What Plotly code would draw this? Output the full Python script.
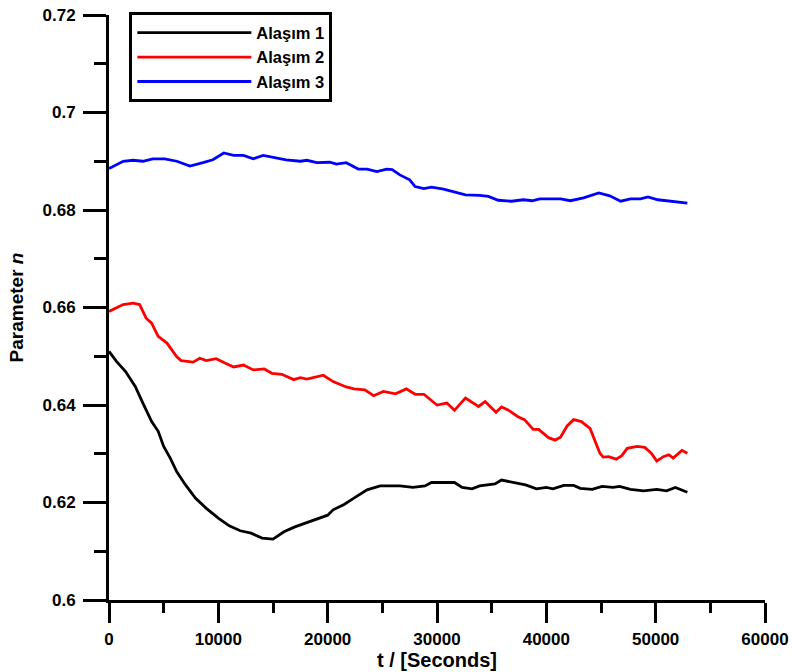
import plotly.graph_objects as go

# ---- data ----
t1 = [0, 700, 1500, 2400, 3100, 3900, 4500, 5000, 5600, 6200, 7000, 7900, 8900, 10000, 11000, 12000, 13000,
      14000, 15000, 16000, 17000, 18000, 19000, 20000, 20500, 21500, 22400, 23600, 24800, 26600, 27800, 28900,
      29500, 31600, 32300, 33200, 33900, 35300, 35900, 37000, 38100, 39100, 40000, 40600, 41600, 42500, 43100,
      44200, 45100, 46100, 46700, 47700, 48900, 50100, 51000, 51800, 52400, 52900]
n1 = [0.6510, 0.6489, 0.6469, 0.6438, 0.6404, 0.6366, 0.6346, 0.6315, 0.6291, 0.6263, 0.6236, 0.6209, 0.6188,
      0.6168, 0.6152, 0.6142, 0.6137, 0.6127, 0.6125, 0.6140, 0.6150, 0.6158, 0.6165, 0.6174, 0.6185, 0.6196,
      0.6209, 0.6226, 0.6234, 0.6234, 0.6231, 0.6234, 0.6241, 0.6241, 0.6231, 0.6228, 0.6234, 0.6238, 0.6246,
      0.6241, 0.6236, 0.6228, 0.6231, 0.6228, 0.6235, 0.6235, 0.6229, 0.6227, 0.6233, 0.6231, 0.6233, 0.6227,
      0.6224, 0.6227, 0.6224, 0.6231, 0.6226, 0.6221]

t2 = [0, 1300, 2200, 2800, 3400, 3900, 4500, 5300, 6200, 6600, 7700, 8300, 8900, 9800, 10600, 11400, 12300,
      13200, 14200, 14900, 15800, 16900, 17500, 18100, 19600, 20500, 21700, 22400, 23400, 24200, 25100, 26200,
      27200, 28000, 28800, 30000, 30900, 31600, 32600, 33800, 34400, 35400, 35900, 36500, 37400, 38000, 38800,
      39300, 40200, 40800, 41300, 41900, 42500, 43200, 44000, 44500, 44900, 45200, 45700, 46400, 46900, 47400,
      48300, 49000, 49600, 50100, 50700, 51200, 51600, 52400, 52900]
n2 = [0.6592, 0.6606, 0.6609, 0.6606, 0.6578, 0.6568, 0.6541, 0.6527, 0.6499, 0.6491, 0.6488, 0.6496, 0.6491,
      0.6495, 0.6486, 0.6478, 0.6482, 0.6472, 0.6474, 0.6465, 0.6463, 0.6452, 0.6456, 0.6453, 0.6461, 0.6448,
      0.6437, 0.6433, 0.6431, 0.6419, 0.6428, 0.6423, 0.6433, 0.6422, 0.6422, 0.6400, 0.6404, 0.6389, 0.6414,
      0.6397, 0.6407, 0.6385, 0.6396, 0.6390, 0.6376, 0.6370, 0.6350, 0.6350, 0.6333, 0.6328, 0.6334, 0.6357,
      0.6370, 0.6366, 0.6352, 0.6325, 0.6301, 0.6293, 0.6294, 0.6289, 0.6296, 0.6311, 0.6315, 0.6313, 0.6301,
      0.6285, 0.6294, 0.6298, 0.6291, 0.6307, 0.6301]

t3 = [0, 1300, 2200, 3100, 4000, 5100, 6200, 7400, 8600, 9500, 10500, 11400, 12300, 13200, 14100, 15000,
      16200, 17500, 18100, 19000, 20200, 20800, 21700, 22800, 23600, 24500, 25400, 25900, 26600, 27500, 28000,
      28800, 29500, 30600, 31500, 32600, 33900, 34700, 35600, 36800, 37900, 38700, 39400, 41300, 42200, 43400,
      44800, 45800, 46800, 47700, 48600, 49300, 50200, 51600, 52900]
n3 = [0.6885, 0.6900, 0.6902, 0.6900, 0.6905, 0.6905, 0.6900, 0.6890, 0.6897, 0.6903, 0.6917, 0.6912, 0.6912,
      0.6905, 0.6912, 0.6908, 0.6903, 0.6900, 0.6902, 0.6897, 0.6898, 0.6894, 0.6897, 0.6884, 0.6884, 0.6879,
      0.6884, 0.6883, 0.6872, 0.6862, 0.6848, 0.6844, 0.6847, 0.6843, 0.6838, 0.6831, 0.6830, 0.6828, 0.6820,
      0.6818, 0.6821, 0.6819, 0.6823, 0.6823, 0.6819, 0.6825, 0.6835, 0.6829, 0.6818, 0.6823, 0.6823, 0.6827,
      0.6821, 0.6818, 0.6814]

series_names = ["Alaşım 1", "Alaşım 2", "Alaşım 3"]
series_colors = ["#000000", "#ff0000", "#0000ff"]

y_tickvals = [0.6, 0.62, 0.64, 0.66, 0.68, 0.7, 0.72]
y_ticktext = ["0.6", "0.62", "0.64", "0.66", "0.68", "0.7", "0.72"]
x_tickvals = [0, 10000, 20000, 30000, 40000, 50000, 60000]
x_ticktext = ["0", "10000", "20000", "30000", "40000", "50000", "60000"]

FONT = "Liberation Sans, Arial, sans-serif"

fig = go.Figure()
for t, n, name, col in zip([t1, t2, t3], [n1, n2, n3], series_names, series_colors):
    fig.add_trace(go.Scatter(x=t, y=n, mode="lines", name=name,
                             line=dict(color=col, width=2.8)))

axis_common = dict(
    showline=True, linecolor="black", linewidth=3,
    ticks="outside", tickcolor="black", tickwidth=3,
    showgrid=False, zeroline=False, mirror=False, automargin=False,
    tickfont=dict(family=FONT, size=17, color="black", weight="bold"),
)

fig.update_xaxes(
    range=[0, 60000], tickmode="array", tickvals=x_tickvals, ticktext=x_ticktext,
    ticklen=20, ticklabelstandoff=2,
    minor=dict(dtick=5000, tick0=0, ticklen=10, tickwidth=3, tickcolor="black", ticks="outside"),
    title=dict(text="t / [Seconds]", font=dict(family=FONT, size=20, color="black", weight="bold"), standoff=3),
    **axis_common,
)
fig.update_yaxes(
    range=[0.6, 0.72], tickmode="array", tickvals=y_tickvals, ticktext=y_ticktext,
    ticklen=23, ticklabelstandoff=4,
    minor=dict(dtick=0.01, tick0=0.6, ticklen=12, tickwidth=3, tickcolor="black", ticks="outside"),
    title=dict(text="Parameter <i>n</i>", font=dict(family=FONT, size=19, color="black", weight="bold"), standoff=14),
    **axis_common,
)

fig.update_layout(
    width=792, height=672,
    margin=dict(l=109, r=27, t=15, b=72),
    paper_bgcolor="white", plot_bgcolor="white",
    showlegend=True,
    legend=dict(
        x=0.031, y=1.0045, xanchor="left", yanchor="top",
        bgcolor="white", bordercolor="black", borderwidth=3,
        font=dict(family=FONT, size=16.5, color="black", weight="bold"),
        itemwidth=114, tracegroupgap=0,
    ),
)

fig.write_html("out.html")
